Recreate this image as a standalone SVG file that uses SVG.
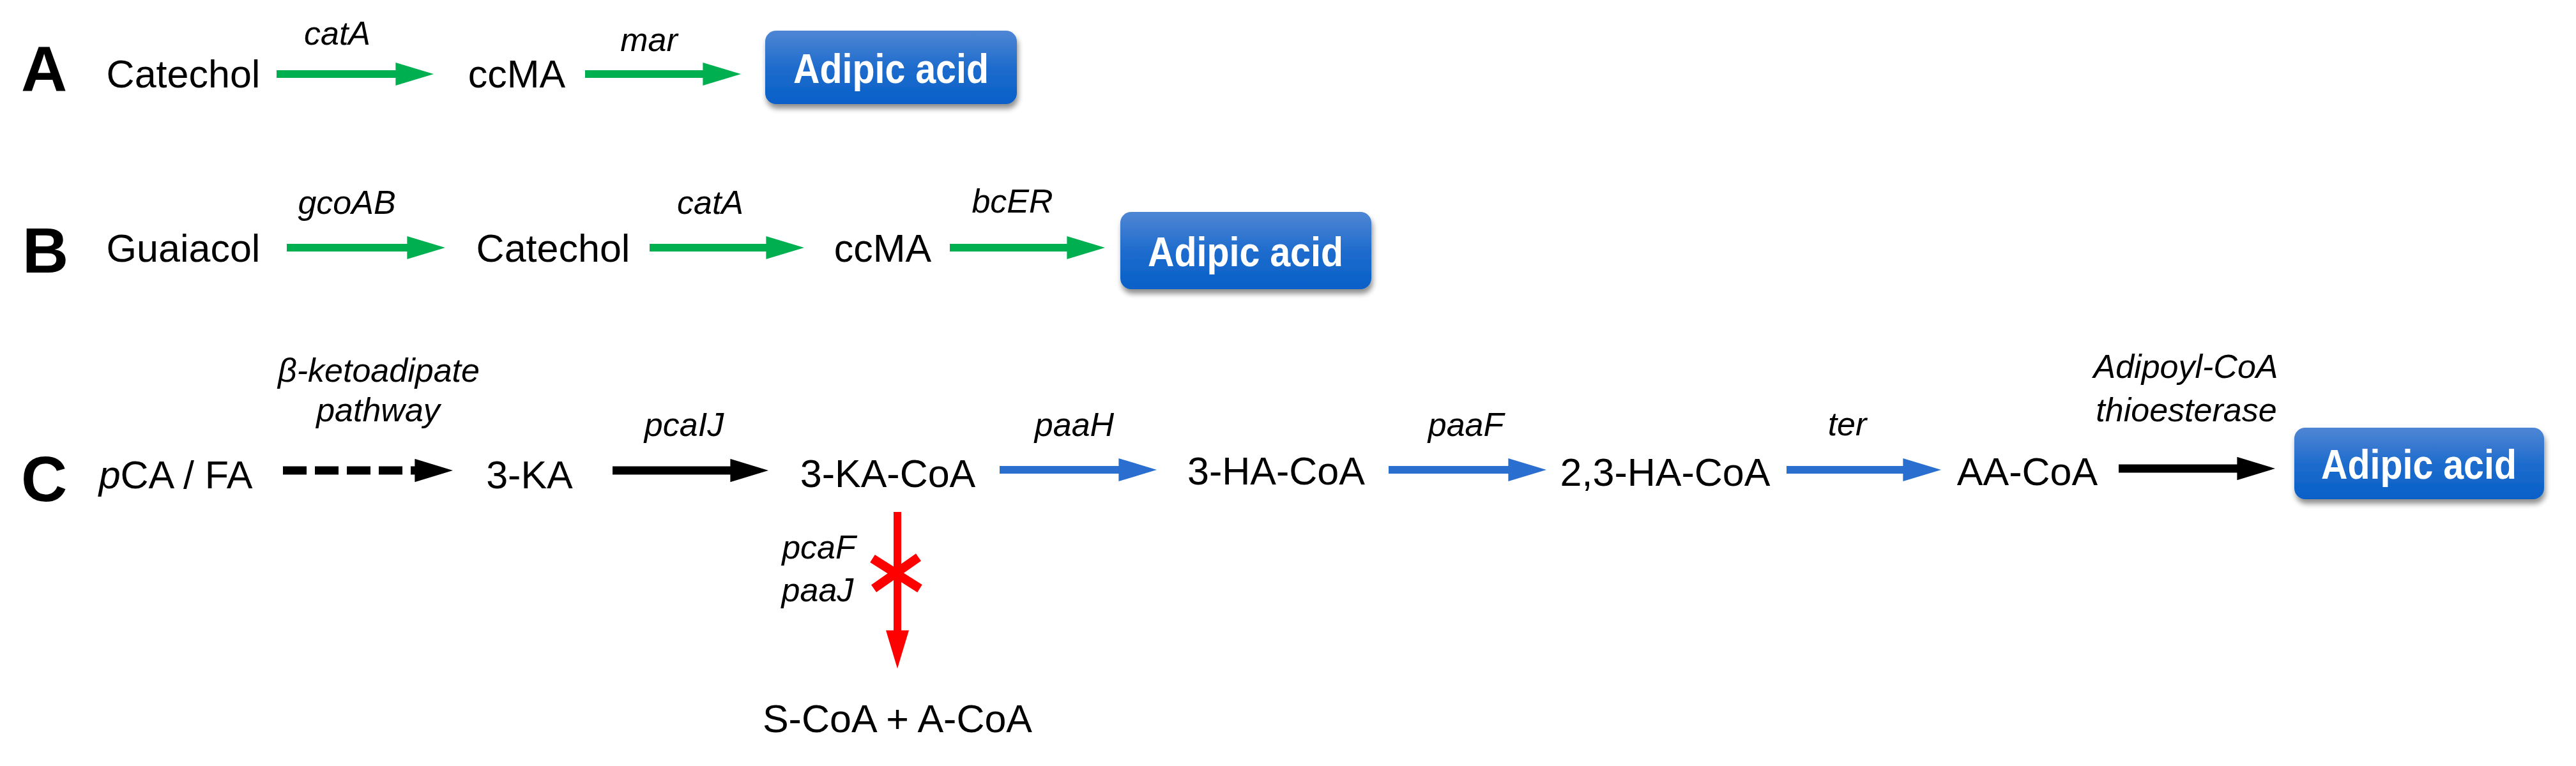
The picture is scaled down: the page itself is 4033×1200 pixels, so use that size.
<svg xmlns="http://www.w3.org/2000/svg" width="4033" height="1200" viewBox="0 0 4033 1200">
<style>
  .main { font-family: "Liberation Sans", Arial, sans-serif; font-size: 61px; fill: #000; text-anchor: middle; }
  .lbl { font-family: "Liberation Sans", Arial, sans-serif; font-size: 52px; font-style: italic; fill: #000; text-anchor: middle; }
  .panel { font-family: "Liberation Sans", Arial, sans-serif; font-size: 100px; font-weight: bold; fill: #000; }
  .boxtxt { font-family: "Liberation Sans", Arial, sans-serif; font-size: 64px; font-weight: bold; fill: #fff; text-anchor: middle; }
  .box { fill: url(#boxgrad); filter: url(#shadow); }
  .green { stroke: #00b050; stroke-width: 12; fill: none; marker-end: url(#hg); }
  .blue { stroke: #2a6ecf; stroke-width: 12; fill: none; marker-end: url(#hb); }
  .black { stroke: #000; stroke-width: 13; fill: none; marker-end: url(#hk); }
  .dashed { stroke-dasharray: 37 13; }
  .red { stroke: #ff0000; stroke-width: 12; fill: none; marker-end: url(#hr); }
  .cross { stroke: #ff0000; stroke-width: 14; fill: none; }
</style>
<defs>
  <linearGradient id="boxgrad" x1="0" y1="0" x2="0" y2="1">
    <stop offset="0" stop-color="#4f86d4"/>
    <stop offset="0.5" stop-color="#1f6ccd"/>
    <stop offset="1" stop-color="#0660c8"/>
  </linearGradient>
  <filter id="shadow" x="-10%" y="-20%" width="120%" height="150%">
    <feGaussianBlur in="SourceAlpha" stdDeviation="4"/>
    <feOffset dx="2" dy="7" result="b"/>
    <feComponentTransfer><feFuncA type="linear" slope="0.45"/></feComponentTransfer>
    <feMerge><feMergeNode/><feMergeNode in="SourceGraphic"/></feMerge>
  </filter>
  <marker id="hg" viewBox="0 0 5 3" refX="0.05" refY="1.5" markerWidth="5" markerHeight="3" orient="auto" markerUnits="strokeWidth">
    <path d="M0,0 L5,1.5 L0,3 Z" fill="#00b050"/>
  </marker>
  <marker id="hb" viewBox="0 0 5 3" refX="0.05" refY="1.5" markerWidth="5" markerHeight="3" orient="auto" markerUnits="strokeWidth">
    <path d="M0,0 L5,1.5 L0,3 Z" fill="#2a6ecf"/>
  </marker>
  <marker id="hk" viewBox="0 0 4.6 2.8" refX="0.05" refY="1.4" markerWidth="4.6" markerHeight="2.8" orient="auto" markerUnits="strokeWidth">
    <path d="M0,0 L4.6,1.4 L0,2.8 Z" fill="#000"/>
  </marker>
  <marker id="hr" viewBox="0 0 5 3" refX="0.05" refY="1.5" markerWidth="5" markerHeight="3" orient="auto" markerUnits="strokeWidth">
    <path d="M0,0 L5,1.5 L0,3 Z" fill="#ff0000"/>
  </marker>
</defs>
<rect width="4033" height="1200" fill="#fff"/>

<g id="panel-labels">
  <text class="panel" x="33" y="143">A</text>
  <text class="panel" x="35" y="427">B</text>
  <text class="panel" x="33" y="785">C</text>
</g>

<!-- Row A -->
<g id="a-catechol"><text class="main" x="287" y="137">Catechol</text></g>
<g id="a-ccma"><text class="main" x="809" y="137">ccMA</text></g>
<g id="a-adipic"><rect class="box" x="1198" y="48" width="394" height="115" rx="17"/><text class="boxtxt" x="1395" y="130" textLength="306" lengthAdjust="spacingAndGlyphs">Adipic acid</text></g>

<!-- Row B -->
<g id="b-guaiacol"><text class="main" x="287" y="410">Guaiacol</text></g>
<g id="b-catechol"><text class="main" x="866" y="410">Catechol</text></g>
<g id="b-ccma"><text class="main" x="1382" y="410">ccMA</text></g>
<g id="b-adipic"><rect class="box" x="1754" y="332" width="393" height="121" rx="17"/><text class="boxtxt" x="1950" y="417" textLength="306" lengthAdjust="spacingAndGlyphs">Adipic acid</text></g>

<!-- Row C -->
<g id="c-pcafa"><text class="main" x="275" y="765"><tspan font-style="italic">p</tspan>CA / FA</text></g>
<g id="c-3ka"><text class="main" x="829" y="765">3-KA</text></g>
<g id="c-3kacoa"><text class="main" x="1390" y="763">3-KA-CoA</text></g>
<g id="c-3hacoa"><text class="main" x="1998" y="759">3-HA-CoA</text></g>
<g id="c-23hacoa"><text class="main" x="2607" y="761">2,3-HA-CoA</text></g>
<g id="c-aacoa"><text class="main" x="3174" y="760">AA-CoA</text></g>
<g id="c-adipic"><rect class="box" x="3592" y="670" width="391" height="112" rx="17"/><text class="boxtxt" x="3787" y="750" textLength="306" lengthAdjust="spacingAndGlyphs">Adipic acid</text></g>
<g id="c-scoa"><text class="main" x="1405" y="1147">S-CoA + A-CoA</text></g>

<g id="connectors">
  <line class="green" x1="433" y1="116" x2="620" y2="116"/>
  <line class="green" x1="916" y1="116" x2="1101" y2="116"/>
  <line class="green" x1="449" y1="388" x2="638" y2="388"/>
  <line class="green" x1="1017" y1="388" x2="1200" y2="388"/>
  <line class="green" x1="1487" y1="388" x2="1671" y2="388"/>
  <line class="black dashed" x1="443" y1="737" x2="650" y2="737"/>
  <line class="black" x1="959" y1="737" x2="1144" y2="737"/>
  <line class="blue" x1="1565" y1="736" x2="1752" y2="736"/>
  <line class="blue" x1="2174" y1="736" x2="2362" y2="736"/>
  <line class="blue" x1="2797" y1="736" x2="2980" y2="736"/>
  <line class="black" x1="3317" y1="734" x2="3503" y2="734"/>
  <line class="red" x1="1405" y1="802" x2="1405" y2="988"/>
  <path class="cross" d="M1366,875 L1440,922 M1368,922 L1438,873"/>
</g>

<g id="labels">
  <text class="lbl" x="528" y="70">catA</text>
  <text class="lbl" x="1016" y="80">mar</text>
  <text class="lbl" x="543" y="335">gcoAB</text>
  <text class="lbl" x="1112" y="335">catA</text>
  <text class="lbl" x="1585" y="333">bcER</text>
  <text class="lbl" x="593" y="598">β-ketoadipate</text>
  <text class="lbl" x="592" y="660">pathway</text>
  <text class="lbl" x="1071" y="683">pcaIJ</text>
  <text class="lbl" x="1682" y="683">paaH</text>
  <text class="lbl" x="2295" y="683">paaF</text>
  <text class="lbl" x="2892" y="682">ter</text>
  <text class="lbl" x="3422" y="592">Adipoyl-CoA</text>
  <text class="lbl" x="3423" y="660">thioesterase</text>
  <text class="lbl" x="1282" y="875">pcaF</text>
  <text class="lbl" x="1280" y="942">paaJ</text>
</g>
</svg>
